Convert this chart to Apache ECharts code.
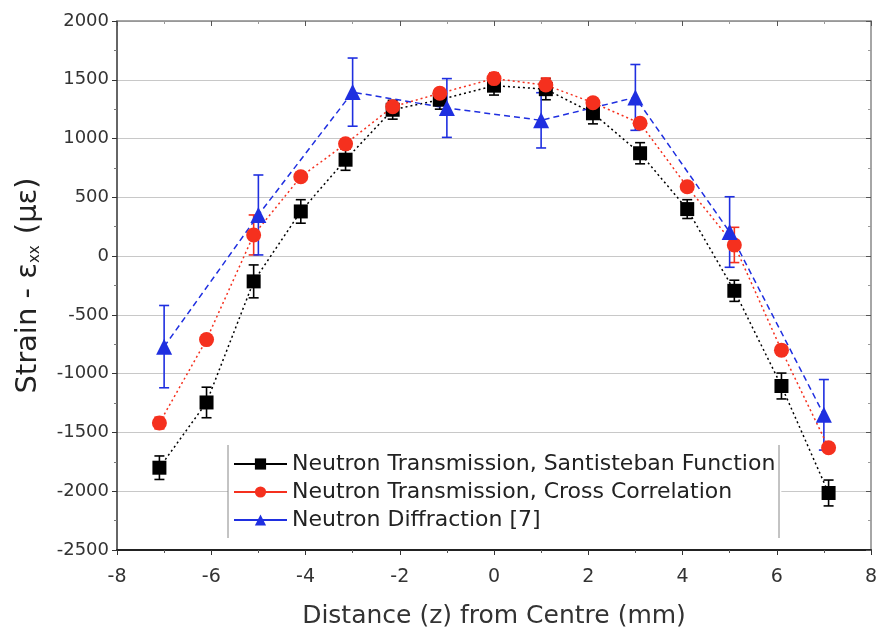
<!DOCTYPE html>
<html>
<head>
<meta charset="utf-8">
<script src="https://cdn.jsdelivr.net/npm/echarts@6/dist/echarts.min.js"></script>
<style>
  html, body { margin: 0; padding: 0; background: #fff; }
  #strain-chart { width: 881px; height: 636px; }
</style>
</head>
<body>
<div id="strain-chart"></div>
<script>
// positions along z (mm)
var zTrans = [-7.1, -6.1, -5.1, -4.1, -3.15, -2.15, -1.15, 0, 1.1, 2.1, 3.1, 4.1, 5.1, 6.1, 7.1];
var zDiff = [-7, -5, -3, -1, 1, 3, 5, 7];

// strain values (micro-strain) and their errors
var santisteban = [-1800, -1245, -215, 380, 820, 1245, 1330, 1450, 1420, 1215, 875, 400, -295, -1105, -2015];
var santistebanErr = [100, 130, 140, 100, 90, 80, 80, 80, 90, 90, 90, 80, 90, 110, 110];
var crossCorr = [-1420, -710, 180, 675, 955, 1270, 1385, 1510, 1455, 1305, 1130, 590, 95, -800, -1630];
var crossCorrErr = [50, 40, 170, 40, 40, 40, 40, 50, 60, 40, 40, 40, 150, 40, 40];
var diffraction = [-770, 350, 1395, 1260, 1155, 1350, 205, -1350];
var diffractionErr = [350, 340, 290, 250, 235, 280, 300, 300];

var seriesNames = [
    'Neutron Transmission, Santisteban Function',
    'Neutron Transmission, Cross Correlation',
    'Neutron Diffraction [7]'
];
var colors = ['#000000', '#f5301e', '#1f2fe0'];

var chart = echarts.init(document.getElementById('strain-chart'));

function points(xs, ys) {
    return xs.map(function (x, i) { return [x, ys[i]]; });
}

function errBars(xs, ys, es) {
    return xs.map(function (x, i) { return [x, ys[i] - es[i], ys[i] + es[i]]; });
}

function renderErrorBar(params, api) {
    var x = api.value(0);
    var top = api.coord([x, api.value(2)]);
    var bot = api.coord([x, api.value(1)]);
    var half = 5;
    var style = { stroke: api.visual('color'), lineWidth: 1.6 };
    return {
        type: 'group',
        children: [
            { type: 'line', shape: { x1: top[0], y1: top[1], x2: bot[0], y2: bot[1] }, style: style },
            { type: 'line', shape: { x1: top[0] - half, y1: top[1], x2: top[0] + half, y2: top[1] }, style: style },
            { type: 'line', shape: { x1: bot[0] - half, y1: bot[1], x2: bot[0] + half, y2: bot[1] }, style: style }
        ]
    };
}

function errorSeries(data, color) {
    return {
        type: 'custom',
        renderItem: renderErrorBar,
        data: data,
        encode: { x: 0, y: [1, 2] },
        itemStyle: { color: color },
        silent: true,
        z: 1
    };
}

function lineSeries(name, data, color, symbol, size, dash) {
    return {
        name: name,
        type: 'line',
        data: data,
        symbol: symbol,
        symbolSize: size,
        itemStyle: { color: color },
        lineStyle: { color: color, width: 1.5, type: dash },
        z: 3
    };
}

var axisFont = 'DejaVu Sans';

var option = {
    animation: false,
    grid: { left: 117, right: 10, top: 21, bottom: 86 },
    legend: {
        data: seriesNames,
        orient: 'vertical',
        left: 228,
        top: 445,
        padding: [8, 6, 8, 5],
        backgroundColor: '#ffffff',
        itemWidth: 53,
        itemHeight: 14,
        itemGap: 6,
        lineStyle: { type: 'solid' },
        textStyle: { fontFamily: axisFont, fontSize: 22, color: '#222', lineHeight: 21 }
    },
    xAxis: [{
        type: 'value',
        min: -8,
        max: 8,
        interval: 2,
        name: 'Distance (z) from Centre (mm)',
        nameLocation: 'middle',
        nameGap: 54,
        nameTextStyle: { fontFamily: axisFont, fontSize: 25, color: '#333' },
        axisLine: { onZero: false, lineStyle: { color: '#222', width: 2 } },
        axisTick: { show: true, length: 5, lineStyle: { color: '#333' } },
        minorTick: { show: true, splitNumber: 2, length: 3, lineStyle: { color: '#555' } },
        axisLabel: { fontFamily: axisFont, fontSize: 19, color: '#333', margin: 18 },
        splitLine: { show: false }
    }, {
        type: 'value',
        position: 'top',
        min: -8,
        max: 8,
        interval: 2,
        axisLine: { show: true, onZero: false, lineStyle: { color: '#888', width: 1.5 } },
        axisTick: { show: true, inside: true, length: 5, lineStyle: { color: '#555' } },
        minorTick: { show: true, splitNumber: 2, length: 3, lineStyle: { color: '#999' } },
        axisLabel: { show: false },
        splitLine: { show: false }
    }],
    yAxis: [{
        type: 'value',
        min: -2500,
        max: 2000,
        interval: 500,
        name: '{a|Strain - ε}{b|xx}{a| (με)}',
        nameLocation: 'middle',
        nameRotate: 90,
        nameGap: 74,
        nameTextStyle: {
            rich: {
                a: { fontFamily: axisFont, fontSize: 29, color: '#222' },
                b: { fontFamily: axisFont, fontSize: 15, color: '#222', verticalAlign: 'bottom', padding: [12, 2, 0, 0] }
            }
        },
        axisLine: { show: true, onZero: false, lineStyle: { color: '#333', width: 1.5 } },
        axisTick: { show: true, length: 5, lineStyle: { color: '#333' } },
        minorTick: { show: true, splitNumber: 2, length: 3, lineStyle: { color: '#777' } },
        axisLabel: {
            fontFamily: axisFont, fontSize: 18, color: '#333', margin: 8,
            formatter: function (v) { return String(v); }
        },
        splitLine: { show: true, lineStyle: { color: '#c8c8c8', width: 1.2 } }
    }, {
        type: 'value',
        position: 'right',
        min: -2500,
        max: 2000,
        interval: 500,
        axisLine: { show: true, onZero: false, lineStyle: { color: '#888', width: 1.5 } },
        axisTick: { show: true, inside: true, length: 5, lineStyle: { color: '#555' } },
        minorTick: { show: true, splitNumber: 2, length: 3, lineStyle: { color: '#999' } },
        axisLabel: { show: false },
        splitLine: { show: false }
    }],
    graphic: [
        { type: 'line', shape: { x1: 228, y1: 445, x2: 228, y2: 538 }, style: { stroke: '#888', lineWidth: 1 }, z: 100 },
        { type: 'line', shape: { x1: 779, y1: 445, x2: 779, y2: 538 }, style: { stroke: '#888', lineWidth: 1 }, z: 100 }
    ],
    series: [
        errorSeries(errBars(zTrans, santisteban, santistebanErr), colors[0]),
        errorSeries(errBars(zTrans, crossCorr, crossCorrErr), colors[1]),
        errorSeries(errBars(zDiff, diffraction, diffractionErr), colors[2]),
        lineSeries(seriesNames[0], points(zTrans, santisteban), colors[0], 'rect', 14, [2, 3]),
        lineSeries(seriesNames[1], points(zTrans, crossCorr), colors[1], 'circle', 15, [2, 3]),
        lineSeries(seriesNames[2], points(zDiff, diffraction), colors[2], 'triangle', 16, [6, 4])
    ]
};

chart.setOption(option);
</script>
</body>
</html>
